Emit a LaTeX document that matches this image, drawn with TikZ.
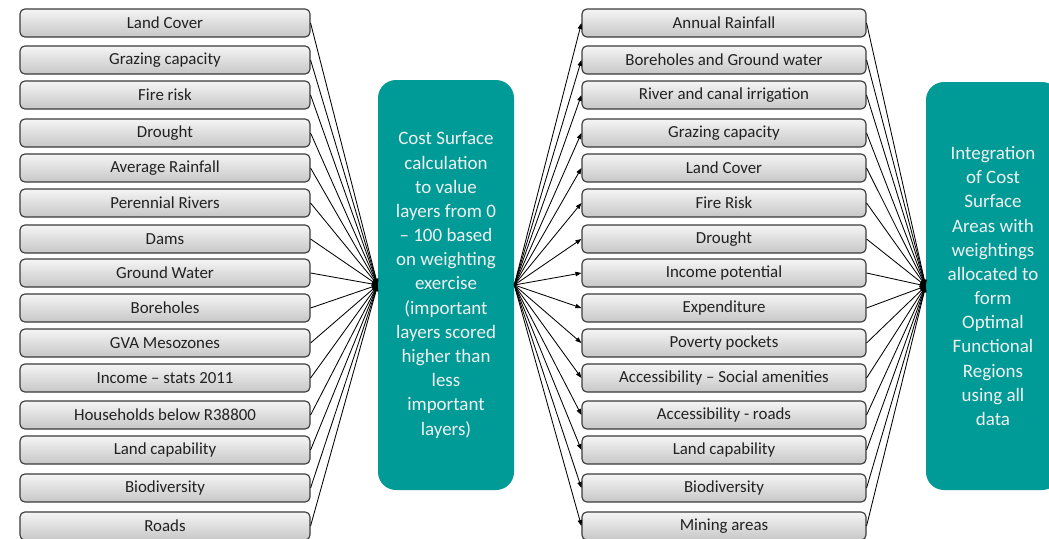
\documentclass[tikz,border=0pt]{standalone}
\usepackage{fontspec}
\setmainfont{Carlito}
\usepackage{tikz}
\usetikzlibrary{arrows.meta}
\definecolor{costteal}{HTML}{009B96}
\definecolor{boxink}{HTML}{3A3A3A}
\definecolor{labelink}{HTML}{222222}

\begin{document}
\begin{tikzpicture}[
    font=\fontsize{12}{14}\selectfont,
    >={Triangle[length=1.5mm, width=1.1mm]},
    layer/.style={draw=boxink, line width=0.8pt, rounded corners=1.2mm, top color=white!96!black, bottom color=black!22, text=labelink, minimum height=7mm, inner sep=0pt},
    inlayer/.style={layer, minimum width=72.5mm},
    outlayer/.style={layer, minimum width=71mm},
    process/.style={fill=costteal, rounded corners=4.5mm, text=white!94!black, align=center, inner sep=0pt, font=\fontsize{13.5}{17.2}\selectfont},
    arrow/.style={black, ->, line width=0.6pt},
]
    \useasboundingbox (0,0) rectangle (26.225,-13.475);

    % =====================================================================
    % INPUT LAYERS
    % =====================================================================
    \node[inlayer] (lyr0)  at (4.125, -0.575)  {Land Cover};
    \node[inlayer] (lyr1)  at (4.125, -1.5)    {Grazing capacity};
    \node[inlayer] (lyr2)  at (4.125, -2.375)  {Fire risk};
    \node[inlayer] (lyr3)  at (4.125, -3.325)  {Drought};
    \node[inlayer] (lyr4)  at (4.125, -4.2)    {Average Rainfall};
    \node[inlayer] (lyr5)  at (4.125, -5.075)  {Perennial Rivers};
    \node[inlayer] (lyr6)  at (4.125, -5.975)  {Dams};
    \node[inlayer] (lyr7)  at (4.125, -6.825)  {Ground Water};
    \node[inlayer] (lyr8)  at (4.125, -7.7)    {Boreholes};
    \node[inlayer] (lyr9)  at (4.125, -8.575)  {GVA Mesozones};
    \node[inlayer] (lyr10) at (4.125, -9.45)   {Income – stats 2011};
    \node[inlayer] (lyr11) at (4.125, -10.375) {Households below R38800};
    \node[inlayer] (lyr12) at (4.125, -11.25)  {Land capability};
    \node[inlayer] (lyr13) at (4.125, -12.2)   {Biodiversity};
    \node[inlayer] (lyr14) at (4.125, -13.15)  {Roads};

    % =====================================================================
    % COST SURFACE CALCULATION
    % =====================================================================
    \node[process, minimum width=34mm, minimum height=102.5mm] (costsurf) at (11.15, -7.125)
        {Cost Surface\\calculation\\to value\\layers from 0\\– 100 based\\on weighting\\exercise\\(important\\layers scored\\higher than\\less\\important\\layers)};

    \draw[arrow] (lyr0.east)  -- (costsurf.west);
    \draw[arrow] (lyr1.east)  -- (costsurf.west);
    \draw[arrow] (lyr2.east)  -- (costsurf.west);
    \draw[arrow] (lyr3.east)  -- (costsurf.west);
    \draw[arrow] (lyr4.east)  -- (costsurf.west);
    \draw[arrow] (lyr5.east)  -- (costsurf.west);
    \draw[arrow] (lyr6.east)  -- (costsurf.west);
    \draw[arrow] (lyr7.east)  -- (costsurf.west);
    \draw[arrow] (lyr8.east)  -- (costsurf.west);
    \draw[arrow] (lyr9.east)  -- (costsurf.west);
    \draw[arrow] (lyr10.east) -- (costsurf.west);
    \draw[arrow] (lyr11.east) -- (costsurf.west);
    \draw[arrow] (lyr12.east) -- (costsurf.west);
    \draw[arrow] (lyr13.east) -- (costsurf.west);
    \draw[arrow] (lyr14.east) -- (costsurf.west);

    % =====================================================================
    % COST SURFACE AREAS
    % =====================================================================
    \node[outlayer] (csa0)  at (18.1, -0.575)  {Annual Rainfall};
    \node[outlayer] (csa1)  at (18.1, -1.5)    {Boreholes and Ground water};
    \node[outlayer] (csa2)  at (18.1, -2.375)  {River and canal irrigation};
    \node[outlayer] (csa3)  at (18.1, -3.325)  {Grazing capacity};
    \node[outlayer] (csa4)  at (18.1, -4.2)    {Land Cover};
    \node[outlayer] (csa5)  at (18.1, -5.075)  {Fire Risk};
    \node[outlayer] (csa6)  at (18.1, -5.975)  {Drought};
    \node[outlayer] (csa7)  at (18.1, -6.825)  {Income potential};
    \node[outlayer] (csa8)  at (18.1, -7.7)    {Expenditure};
    \node[outlayer] (csa9)  at (18.1, -8.575)  {Poverty pockets};
    \node[outlayer] (csa10) at (18.1, -9.45)   {Accessibility – Social amenities};
    \node[outlayer] (csa11) at (18.1, -10.375) {Accessibility - roads};
    \node[outlayer] (csa12) at (18.1, -11.25)  {Land capability};
    \node[outlayer] (csa13) at (18.1, -12.2)   {Biodiversity};
    \node[outlayer] (csa14) at (18.1, -13.15)  {Mining areas};

    \draw[arrow] (costsurf.east) -- (csa0.west);
    \draw[arrow] (costsurf.east) -- (csa1.west);
    \draw[arrow] (costsurf.east) -- (csa2.west);
    \draw[arrow] (costsurf.east) -- (csa3.west);
    \draw[arrow] (costsurf.east) -- (csa4.west);
    \draw[arrow] (costsurf.east) -- (csa5.west);
    \draw[arrow] (costsurf.east) -- (csa6.west);
    \draw[arrow] (costsurf.east) -- (csa7.west);
    \draw[arrow] (costsurf.east) -- (csa8.west);
    \draw[arrow] (costsurf.east) -- (csa9.west);
    \draw[arrow] (costsurf.east) -- (csa10.west);
    \draw[arrow] (costsurf.east) -- (csa11.west);
    \draw[arrow] (costsurf.east) -- (csa12.west);
    \draw[arrow] (costsurf.east) -- (csa13.west);
    \draw[arrow] (costsurf.east) -- (csa14.west);

    % =====================================================================
    % INTEGRATION
    % =====================================================================
    \node[process, minimum width=33.5mm, minimum height=102mm] (integ) at (24.825, -7.15)
        {Integration\\of Cost\\Surface\\Areas with\\weightings\\allocated to\\form\\Optimal\\Functional\\Regions\\using all\\data};

    \draw[arrow] (csa0.east)  -- (integ.west);
    \draw[arrow] (csa1.east)  -- (integ.west);
    \draw[arrow] (csa2.east)  -- (integ.west);
    \draw[arrow] (csa3.east)  -- (integ.west);
    \draw[arrow] (csa4.east)  -- (integ.west);
    \draw[arrow] (csa5.east)  -- (integ.west);
    \draw[arrow] (csa6.east)  -- (integ.west);
    \draw[arrow] (csa7.east)  -- (integ.west);
    \draw[arrow] (csa8.east)  -- (integ.west);
    \draw[arrow] (csa9.east)  -- (integ.west);
    \draw[arrow] (csa10.east) -- (integ.west);
    \draw[arrow] (csa11.east) -- (integ.west);
    \draw[arrow] (csa12.east) -- (integ.west);
    \draw[arrow] (csa13.east) -- (integ.west);
    \draw[arrow] (csa14.east) -- (integ.west);

\end{tikzpicture}
\end{document}
